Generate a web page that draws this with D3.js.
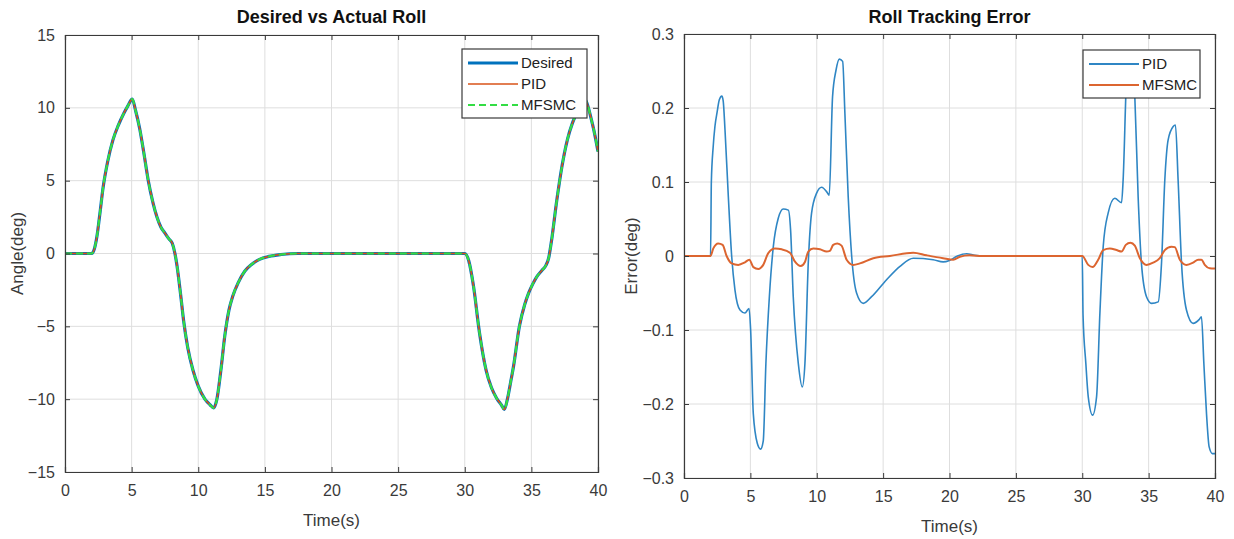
<!DOCTYPE html>
<html>
<head>
<meta charset="utf-8">
<script src="https://cdn.jsdelivr.net/npm/d3@7"></script>
<style>
  html, body { margin: 0; padding: 0; background: #ffffff; }
  svg { display: block; }
  text { font-family: "Liberation Sans", Arial, Helvetica, sans-serif; }
</style>
</head>
<body>
<svg id="chart" width="1234" height="539"></svg>
<script>
// ---------- data ----------
const timeTicks = [0, 5, 10, 15, 20, 25, 30, 35, 40];
const angleTicks = [-15, -10, -5, 0, 5, 10, 15];
const errorTicks = [-0.3, -0.2, -0.1, 0, 0.1, 0.2, 0.3];

const rollTime = [0, 2.0, 2.2, 2.4, 2.6, 2.87, 3.2, 3.6, 4.0, 4.4, 4.7, 5.05, 5.3, 5.6, 5.9, 6.25, 6.6, 6.9, 7.2, 7.5, 7.8, 8.05, 8.25, 8.4, 8.7, 8.9, 9.2, 9.6, 10.0, 10.5, 10.9, 11.15, 11.4, 11.7, 12.0, 12.3, 12.6, 13.0, 13.5, 14.0, 14.6, 15.3, 16.2, 17.5, 25, 30, 30.3, 30.65, 31.1, 31.6, 32.0, 32.4, 32.75, 32.97, 33.2, 33.45, 33.65, 34.1, 34.5, 34.8, 35.1, 35.4, 35.8, 36.1, 36.3, 36.5, 36.9, 37.3, 37.7, 38.1, 38.5, 38.8, 39.0, 39.25, 39.5, 39.75, 40];
const rollDesired = [0, 0, 0.3, 1.2, 2.6, 4.6, 6.3, 7.8, 8.8, 9.6, 10.1, 10.6, 9.8, 8.6, 7.0, 5.0, 3.5, 2.5, 1.8, 1.4, 1.0, 0.7, 0.0, -0.8, -3.0, -4.6, -6.4, -8.0, -9.1, -10.0, -10.4, -10.6, -10.0, -8.0, -5.6, -3.9, -2.9, -2.0, -1.2, -0.75, -0.4, -0.2, -0.07, 0, 0, 0, -0.5, -2.2, -5.4, -8.0, -9.2, -9.95, -10.4, -10.7, -10.0, -8.8, -7.8, -5.0, -3.5, -2.7, -2.1, -1.6, -1.15, -0.8, -0.3, 0.8, 3.6, 6.0, 7.8, 9.0, 9.8, 10.3, 10.6, 10.1, 9.2, 8.2, 7.0];
const rollPID = [0, 0, 0.3, 1.2, 2.6, 4.6, 6.3, 7.8, 8.8, 9.6, 10.1, 10.6, 9.8, 8.6, 7.0, 5.0, 3.5, 2.5, 1.8, 1.4, 1.0, 0.7, 0.0, -0.8, -3.0, -4.6, -6.4, -8.0, -9.1, -10.0, -10.4, -10.6, -10.0, -8.0, -5.6, -3.9, -2.9, -2.0, -1.2, -0.75, -0.4, -0.2, -0.07, 0, 0, 0, -0.5, -2.2, -5.4, -8.0, -9.2, -9.95, -10.4, -10.7, -10.0, -8.8, -7.8, -5.0, -3.5, -2.7, -2.1, -1.6, -1.15, -0.8, -0.3, 0.8, 3.6, 6.0, 7.8, 9.0, 9.8, 10.3, 10.6, 10.1, 9.2, 8.2, 7.0];
const rollMFSMC = [0, 0, 0.3, 1.2, 2.6, 4.6, 6.3, 7.8, 8.8, 9.6, 10.1, 10.6, 9.8, 8.6, 7.0, 5.0, 3.5, 2.5, 1.8, 1.4, 1.0, 0.7, 0.0, -0.8, -3.0, -4.6, -6.4, -8.0, -9.1, -10.0, -10.4, -10.6, -10.0, -8.0, -5.6, -3.9, -2.9, -2.0, -1.2, -0.75, -0.4, -0.2, -0.07, 0, 0, 0, -0.5, -2.2, -5.4, -8.0, -9.2, -9.95, -10.4, -10.7, -10.0, -8.8, -7.8, -5.0, -3.5, -2.7, -2.1, -1.6, -1.15, -0.8, -0.3, 0.8, 3.6, 6.0, 7.8, 9.0, 9.8, 10.3, 10.6, 10.1, 9.2, 8.2, 7.0];

const errTimePID = [0, 2.0, 2.06, 2.2, 2.33, 2.5, 2.66, 2.85, 2.95, 3.09, 3.34, 3.59, 3.84, 4.22, 4.59, 4.9, 5.02, 5.22, 5.52, 5.77, 5.97, 6.17, 6.43, 6.73, 7.1, 7.48, 7.86, 8.03, 8.23, 8.61, 8.91, 9.11, 9.36, 9.61, 9.99, 10.37, 10.74, 10.94, 11.19, 11.45, 11.7, 11.95, 12.12, 12.37, 12.63, 13.0, 13.5, 14.13, 15.26, 16.27, 17.27, 18.77, 19.52, 20.0, 20.6, 21.3, 21.9, 22.5, 30.0, 30.06, 30.27, 30.45, 30.78, 31.08, 31.33, 31.58, 31.95, 32.45, 32.96, 33.08, 33.33, 33.55, 33.75, 33.96, 34.21, 34.46, 34.84, 35.22, 35.72, 35.97, 36.22, 36.47, 36.85, 37.02, 37.22, 37.48, 37.85, 38.35, 38.8, 38.98, 39.16, 39.36, 39.56, 39.8, 40];
const errPID = [0, 0, 0.1, 0.148, 0.175, 0.195, 0.211, 0.216, 0.21, 0.17, 0.08, 0, -0.046, -0.073, -0.077, -0.071, -0.1, -0.213, -0.253, -0.261, -0.25, -0.145, -0.055, 0.013, 0.051, 0.0635, 0.062, 0.035, -0.055, -0.145, -0.177, -0.145, -0.01, 0.058, 0.085, 0.093, 0.087, 0.082, 0.215, 0.251, 0.266, 0.263, 0.193, 0.08, 0, -0.05, -0.064, -0.055, -0.032, -0.014, -0.003, -0.005, -0.008, -0.006, 0.0, 0.003, 0.001, 0, 0, -0.08, -0.145, -0.19, -0.215, -0.19, -0.077, 0.013, 0.058, 0.078, 0.072, 0.103, 0.238, 0.275, 0.27, 0.215, 0.08, -0.01, -0.055, -0.064, -0.062, -0.01, 0.103, 0.157, 0.175, 0.177, 0.103, -0.01, -0.073, -0.091, -0.086, -0.082, -0.145, -0.213, -0.258, -0.267, -0.267];

const errTimeMFSMC = [0, 2.0, 2.2, 2.58, 2.91, 3.21, 3.59, 4.09, 4.59, 4.92, 5.22, 5.6, 5.97, 6.35, 6.85, 7.36, 7.98, 8.36, 8.79, 9.11, 9.36, 9.74, 10.24, 10.74, 10.99, 11.24, 11.55, 11.87, 12.25, 12.75, 13.25, 14.26, 15.51, 17.27, 18.27, 19.52, 20.28, 20.78, 21.5, 22.5, 30.0, 30.45, 30.78, 31.2, 31.58, 32.08, 32.58, 32.96, 33.28, 33.63, 33.96, 34.34, 34.84, 35.34, 35.84, 36.22, 36.72, 36.97, 37.35, 37.85, 38.35, 38.73, 38.98, 39.23, 39.6, 40];
const errMFSMC = [0, 0, 0.010, 0.017, 0.015, 0, -0.01, -0.012, -0.0085, -0.005, -0.015, -0.0176, -0.012, 0.004, 0.010, 0.009, 0.0045, -0.0077, -0.0135, -0.008, 0.006, 0.010, 0.009, 0.006, 0.007, 0.015, 0.017, 0.014, -0.005, -0.012, -0.01, -0.003, 0, 0.0045, 0.001, -0.003, -0.005, -0.001, 0.001, 0, 0, -0.012, -0.015, -0.005, 0.008, 0.010, 0.008, 0.006, 0.015, 0.018, 0.014, -0.003, -0.012, -0.009, -0.003, 0.008, 0.0126, 0.012, -0.005, -0.012, -0.009, -0.005, -0.005, -0.012, -0.0167, -0.017];

// ---------- styles ----------
const AXIS_COLOR = "#3a3a3a";
const GRID_COLOR = "#dedede";
const BLUE = "#0072BD";
const BLUE_ERR = "#2f86c4";
const ORANGE = "#D95319";
const ORANGE_ERR = "#dc6530";
const GREEN = "#33dd44";

const svg = d3.select("#chart");

function drawPanel(cfg) {
  const { x0, x1, y0, y1, yDomain, yTicks, yFormat, title, ylabel, ylabelX, id } = cfg;
  const x = d3.scaleLinear().domain([0, 40]).range([x0, x1]);
  const y = d3.scaleLinear().domain(yDomain).range([y1, y0]);
  const g = svg.append("g");

  // grid
  g.append("g").selectAll("line").data(timeTicks).join("line")
    .attr("x1", d => x(d)).attr("x2", d => x(d)).attr("y1", y0).attr("y2", y1)
    .attr("stroke", GRID_COLOR).attr("stroke-width", 1);
  g.append("g").selectAll("line").data(yTicks).join("line")
    .attr("x1", x0).attr("x2", x1).attr("y1", d => y(d)).attr("y2", d => y(d))
    .attr("stroke", GRID_COLOR).attr("stroke-width", 1);

  // clip
  svg.append("clipPath").attr("id", id).append("rect")
    .attr("x", x0).attr("y", y0).attr("width", x1 - x0).attr("height", y1 - y0);
  const plot = g.append("g").attr("clip-path", `url(#${id})`);

  // axes (inward ticks on all four sides)
  const tickLen = 5;
  const bottom = g.append("g").attr("transform", `translate(0,${y1})`)
    .call(d3.axisBottom(x).tickValues(timeTicks).tickSize(-tickLen).tickPadding(13).tickFormat(d3.format("d")));
  const top = g.append("g").attr("transform", `translate(0,${y0})`)
    .call(d3.axisTop(x).tickValues(timeTicks).tickSize(-tickLen).tickFormat(""));
  const left = g.append("g").attr("transform", `translate(${x0},0)`)
    .call(d3.axisLeft(y).tickValues(yTicks).tickSize(-tickLen).tickPadding(10).tickFormat(yFormat));
  const right = g.append("g").attr("transform", `translate(${x1},0)`)
    .call(d3.axisRight(y).tickValues(yTicks).tickSize(-tickLen).tickFormat(""));
  [bottom, top, left, right].forEach(a => {
    a.select(".domain").attr("stroke", AXIS_COLOR).attr("stroke-width", 1.2);
    a.selectAll(".tick line").attr("stroke", AXIS_COLOR).attr("stroke-width", 1);
    a.selectAll(".tick text").attr("fill", AXIS_COLOR).attr("font-size", 16)
      .attr("font-family", '"Liberation Sans", Arial, sans-serif');
  });

  // title
  svg.append("text").attr("x", (x0 + x1) / 2).attr("y", 23)
    .attr("text-anchor", "middle").attr("font-size", 18).attr("font-weight", "bold")
    .attr("fill", "#111").text(title);
  // x label
  svg.append("text").attr("x", (x0 + x1) / 2).attr("y", y1 + 54)
    .attr("text-anchor", "middle").attr("font-size", 17).attr("fill", AXIS_COLOR).text("Time(s)");
  // y label
  svg.append("text").attr("transform", `translate(${ylabelX},${(y0 + y1) / 2}) rotate(-90)`)
    .attr("text-anchor", "middle").attr("font-size", 17).attr("fill", AXIS_COLOR).text(ylabel);

  return { x, y, plot, g };
}

// ---------- left panel ----------
const L = drawPanel({
  id: "clipL", x0: 65, x1: 598, y0: 35, y1: 472,
  yDomain: [-15, 15], yTicks: angleTicks, yFormat: d3.format("d"),
  title: "Desired vs Actual Roll", ylabel: "Angle(deg)", ylabelX: 23
});
const lineL = d3.line().x(d => L.x(d[0])).y(d => L.y(d[1])).curve(d3.curveMonotoneX);
L.plot.append("path").datum(rollTime.map((t, i) => [t, rollDesired[i]]))
  .attr("d", lineL).attr("fill", "none").attr("stroke", BLUE).attr("stroke-width", 3.2);
L.plot.append("path").datum(rollTime.map((t, i) => [t, rollPID[i]]))
  .attr("d", lineL).attr("fill", "none").attr("stroke", ORANGE).attr("stroke-width", 1.6);
L.plot.append("path").datum(rollTime.map((t, i) => [t, rollMFSMC[i]]))
  .attr("d", lineL).attr("fill", "none").attr("stroke", GREEN).attr("stroke-width", 2.2)
  .attr("stroke-dasharray", "7,4");

// ---------- right panel ----------
const R = drawPanel({
  id: "clipR", x0: 684, x1: 1215, y0: 34, y1: 478,
  yDomain: [-0.3, 0.3], yTicks: errorTicks, yFormat: d3.format(".1~f"),
  title: "Roll Tracking Error", ylabel: "Error(deg)", ylabelX: 637
});
const lineR = d3.line().x(d => R.x(d[0])).y(d => R.y(d[1])).curve(d3.curveMonotoneX);
R.plot.append("path").datum(errTimePID.map((t, i) => [t, errPID[i]]))
  .attr("d", lineR).attr("fill", "none").attr("stroke", BLUE_ERR).attr("stroke-width", 1.6);
R.plot.append("path").datum(errTimeMFSMC.map((t, i) => [t, errMFSMC[i]]))
  .attr("d", lineR).attr("fill", "none").attr("stroke", ORANGE_ERR).attr("stroke-width", 2);

// ---------- legends ----------
function legend(bx, by, bw, entries) {
  const rowH = 21;
  const g = svg.append("g");
  g.append("rect").attr("x", bx).attr("y", by).attr("width", bw).attr("height", entries.length * rowH + 6)
    .attr("fill", "#fff").attr("stroke", AXIS_COLOR).attr("stroke-width", 1.2);
  entries.forEach((e, i) => {
    const cy = by + 14 + i * rowH;
    g.append("line").attr("x1", bx + 6).attr("x2", bx + 56).attr("y1", cy).attr("y2", cy)
      .attr("stroke", e.color).attr("stroke-width", e.width).attr("stroke-dasharray", e.dash || null);
    g.append("text").attr("x", bx + 59).attr("y", cy + 5).attr("font-size", 15)
      .attr("fill", "#222").text(e.label);
  });
}
legend(462, 49, 125, [
  { label: "Desired", color: BLUE, width: 3 },
  { label: "PID", color: ORANGE, width: 1.6 },
  { label: "MFSMC", color: GREEN, width: 2.2, dash: "7,4" }
]);
legend(1083, 50, 117, [
  { label: "PID", color: BLUE_ERR, width: 2 },
  { label: "MFSMC", color: ORANGE_ERR, width: 2 }
]);
</script>
</body>
</html>
